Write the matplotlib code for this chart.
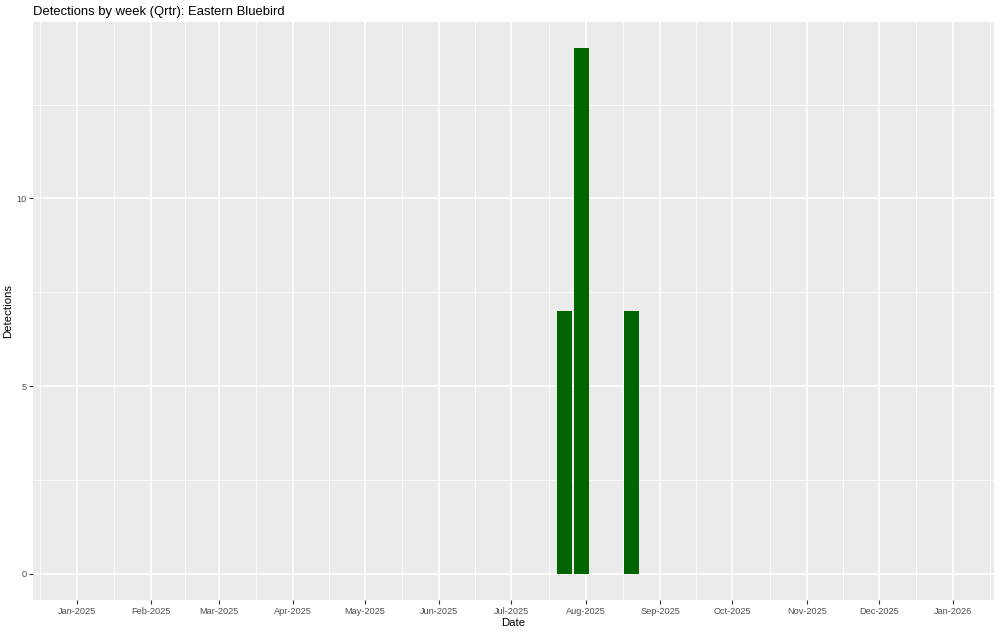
import datetime as dt

import matplotlib
matplotlib.use("Agg")
import matplotlib.pyplot as plt
import matplotlib.dates as mdates
from matplotlib.ticker import FixedLocator

# weekly detections (only non-zero weeks are drawn)
week_dates = [dt.date(2025, 7, 23), dt.date(2025, 7, 30), dt.date(2025, 8, 20)]
detections = [7, 14, 7]

title = "Detections by week (Qrtr): Eastern Bluebird"
month_ticks = [dt.date(2025, m, 1) for m in range(1, 13)] + [dt.date(2026, 1, 1)]
month_labels = [d.strftime("%b-%Y") for d in month_ticks]
y_ticks = [0, 5, 10]

plt.rcParams["font.family"] = ["Liberation Sans", "DejaVu Sans"]

fig = plt.figure(figsize=(10, 6.32), dpi=100)
ax = fig.add_axes([0.033, 0.0506, 0.961, 0.9146])
ax.set_facecolor("#EBEBEB")
for s in ax.spines.values():
    s.set_visible(False)

x = mdates.date2num(week_dates)
ax.bar(x, detections, width=7 * 0.9, color="#006400", zorder=3)

# x limits from pixel positions (2.4 px/day, Jan-2025 at x=77)
x0 = mdates.date2num(dt.date(2025, 1, 1))
ax.set_xlim(x0 - 18.3, x0 + 382.0)
ax.set_ylim(-0.7, 14.7)

major_x = mdates.date2num(month_ticks)
ax.set_xticks(major_x)
ax.set_xticklabels(month_labels)
minor_x = [x0 - 15.5] + [(a + b) / 2 for a, b in zip(major_x[:-1], major_x[1:])] + [major_x[-1] + 15.5]
ax.xaxis.set_minor_locator(FixedLocator(minor_x))
ax.set_yticks(y_ticks)
ax.yaxis.set_minor_locator(FixedLocator([2.5, 7.5, 12.5]))

ax.grid(which="major", color="white", lw=1.1, zorder=1)
ax.grid(which="minor", color="white", lw=0.55, zorder=1)
ax.tick_params(which="major", length=2.7, width=0.8, color="#333333",
               labelcolor="#4D4D4D", labelsize=6.6, pad=2)
ax.tick_params(which="minor", length=0)

ax.set_xlabel("Date", fontsize=8.2, labelpad=2)
ax.set_ylabel("Detections", fontsize=8.2, labelpad=2)
fig.text(0.033, 0.971, title, fontsize=9.4, ha="left", va="bottom")

fig.savefig("out.png", dpi=100)
